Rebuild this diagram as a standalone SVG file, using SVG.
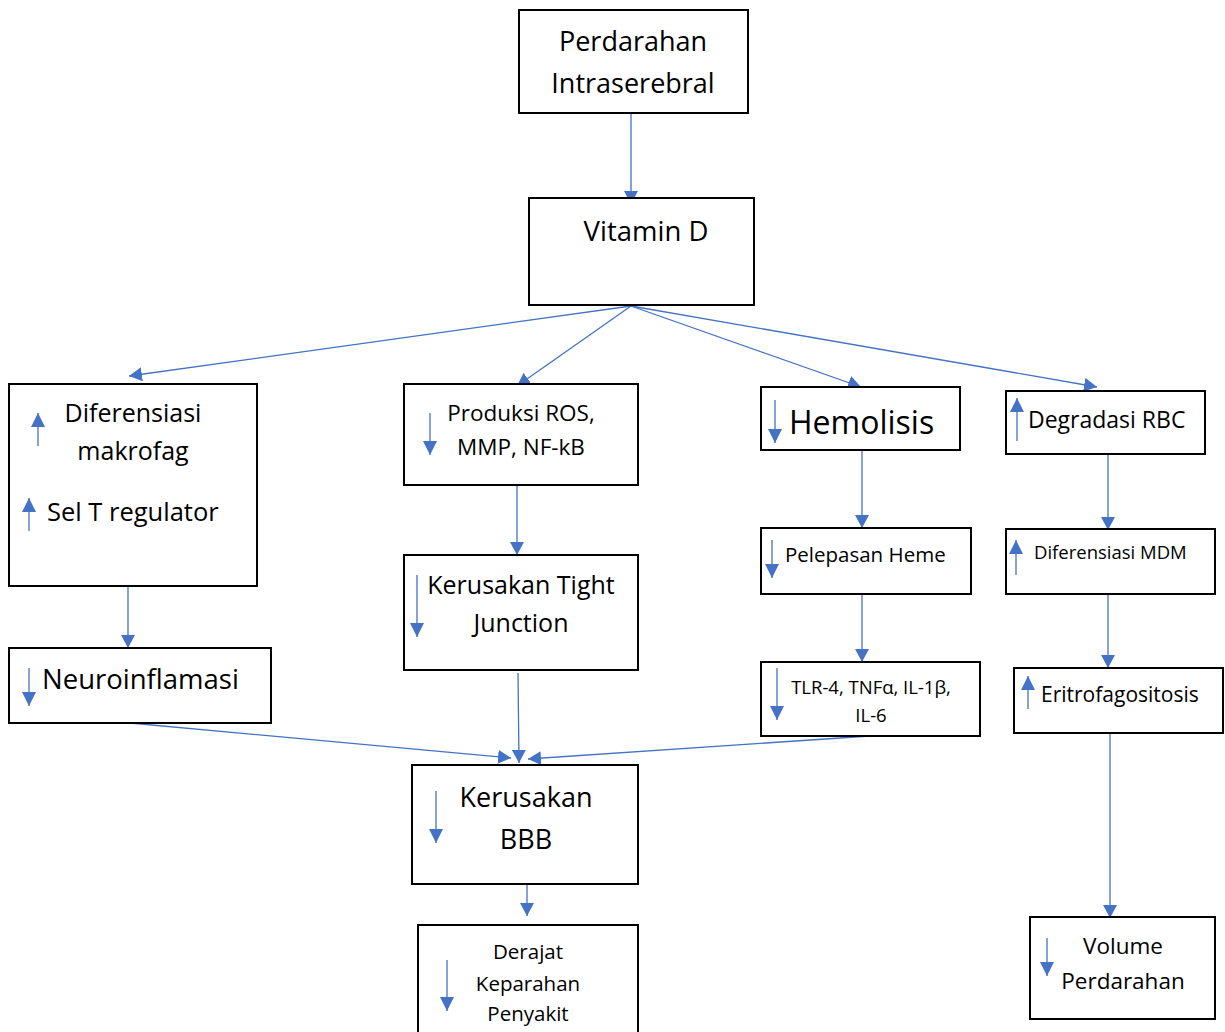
<svg xmlns="http://www.w3.org/2000/svg" width="1225" height="1032" viewBox="0 0 1225 1032">
<style>
.box{fill:#fff;stroke:#000;stroke-width:2}
.t{font-family:"Open Sans","Noto Sans","Liberation Sans",sans-serif;fill:#000}
.c{text-anchor:middle}
.con{stroke:#4472C4;stroke-width:1.3;fill:none}
.ic{stroke:#4472C4;stroke-width:1.3;fill:none}
</style>
<defs>
<marker id="ah" markerUnits="userSpaceOnUse" markerWidth="14" markerHeight="14" refX="13" refY="7" orient="auto">
<path d="M0,0 L13,7 L0,14 z" fill="#4472C4"/>
</marker>
<marker id="ih" markerUnits="userSpaceOnUse" markerWidth="15" markerHeight="15" refX="14" refY="7.5" orient="auto">
<path d="M0,0.5 L14,7.5 L0,14.5 z" fill="#4472C4"/>
</marker>
</defs>
<rect width="1225" height="1032" fill="#fff"/>

<g id="connectors">
<line class="con" x1="631" y1="113" x2="631" y2="204" marker-end="url(#ah)"/>
<line class="con" x1="631" y1="306" x2="129" y2="376" marker-end="url(#ah)"/>
<line class="con" x1="631" y1="306" x2="517" y2="386" marker-end="url(#ah)"/>
<line class="con" x1="631" y1="306" x2="861" y2="387" marker-end="url(#ah)"/>
<line class="con" x1="631" y1="306" x2="1097" y2="387" marker-end="url(#ah)"/>
<line class="con" x1="128" y1="586" x2="128" y2="648" marker-end="url(#ah)"/>
<line class="con" x1="517" y1="485" x2="517" y2="555" marker-end="url(#ah)"/>
<line class="con" x1="518" y1="673" x2="519" y2="763" marker-end="url(#ah)"/>
<line class="con" x1="130" y1="723" x2="511" y2="758" marker-end="url(#ah)"/>
<line class="con" x1="870" y1="736" x2="528" y2="759" marker-end="url(#ah)"/>
<line class="con" x1="862" y1="450" x2="862" y2="528" marker-end="url(#ah)"/>
<line class="con" x1="862" y1="594" x2="862" y2="662" marker-end="url(#ah)"/>
<line class="con" x1="1108" y1="455" x2="1108" y2="530" marker-end="url(#ah)"/>
<line class="con" x1="1108" y1="594" x2="1108" y2="668" marker-end="url(#ah)"/>
<line class="con" x1="1110" y1="733" x2="1110" y2="918" marker-end="url(#ah)"/>
<line class="con" x1="527" y1="884" x2="527" y2="916" marker-end="url(#ah)"/>
</g>

<g id="n-perdarahan">
<rect class="box" x="519" y="10" width="229" height="103"/>
<text class="t c" x="633" y="51" font-size="27">Perdarahan</text>
<text class="t c" x="633" y="93" font-size="27">Intraserebral</text>
</g>

<g id="n-vitd">
<rect class="box" x="529" y="198" width="225" height="107"/>
<text class="t c" x="646" y="241" font-size="27.5">Vitamin D</text>
</g>

<g id="n-difmak">
<rect class="box" x="9" y="384" width="248" height="202"/>
<line class="ic" x1="38" y1="446" x2="38" y2="413" marker-end="url(#ih)"/>
<text class="t c" x="133" y="422" font-size="25">Diferensiasi</text>
<text class="t c" x="133" y="460" font-size="25">makrofag</text>
<line class="ic" x1="29" y1="531" x2="29" y2="498" marker-end="url(#ih)"/>
<text class="t" x="47" y="521" font-size="25.5">Sel T regulator</text>
</g>

<g id="n-neuro">
<rect class="box" x="9" y="648" width="262" height="75"/>
<line class="ic" x1="29" y1="668" x2="29" y2="706" marker-end="url(#ih)"/>
<text class="t" x="42" y="689" font-size="27.5">Neuroinflamasi</text>
</g>

<g id="n-ros">
<rect class="box" x="404" y="384" width="234" height="101"/>
<line class="ic" x1="430" y1="413" x2="430" y2="455" marker-end="url(#ih)"/>
<text class="t c" x="521" y="421" font-size="22.5">Produksi ROS,</text>
<text class="t c" x="521" y="455" font-size="22.5">MMP, NF-kB</text>
</g>

<g id="n-tight">
<rect class="box" x="404" y="555" width="234" height="115"/>
<line class="ic" x1="417" y1="575" x2="417" y2="637" marker-end="url(#ih)"/>
<text class="t c" x="521" y="594" font-size="25">Kerusakan Tight</text>
<text class="t c" x="521" y="632" font-size="25">Junction</text>
</g>

<g id="n-hemolisis">
<rect class="box" x="761" y="387" width="199" height="63"/>
<line class="ic" x1="775" y1="400" x2="775" y2="443" marker-end="url(#ih)"/>
<text class="t" x="789" y="434" font-size="32">Hemolisis</text>
</g>

<g id="n-heme">
<rect class="box" x="761" y="528" width="210" height="66"/>
<line class="ic" x1="772" y1="540" x2="772" y2="578" marker-end="url(#ih)"/>
<text class="t" x="785" y="562" font-size="20.5">Pelepasan Heme</text>
</g>

<g id="n-tlr">
<rect class="box" x="761" y="662" width="219" height="74"/>
<line class="ic" x1="777" y1="668" x2="777" y2="720" marker-end="url(#ih)"/>
<text class="t c" x="871" y="694" font-size="18.5">TLR-4, TNFα, IL-1β,</text>
<text class="t c" x="871" y="722" font-size="18.5">IL-6</text>
</g>

<g id="n-rbc">
<rect class="box" x="1006" y="391" width="199" height="63"/>
<line class="ic" x1="1017" y1="441" x2="1017" y2="398" marker-end="url(#ih)"/>
<text class="t" x="1028" y="428" font-size="23">Degradasi RBC</text>
</g>

<g id="n-mdm">
<rect class="box" x="1006" y="529" width="209" height="65"/>
<line class="ic" x1="1016" y1="575" x2="1016" y2="540" marker-end="url(#ih)"/>
<text class="t" x="1034" y="559" font-size="18.5">Diferensiasi MDM</text>
</g>

<g id="n-eritro">
<rect class="box" x="1014" y="668" width="209" height="65"/>
<line class="ic" x1="1028" y1="709" x2="1028" y2="676" marker-end="url(#ih)"/>
<text class="t" x="1041" y="702" font-size="21">Eritrofagositosis</text>
</g>

<g id="n-volume">
<rect class="box" x="1030" y="917" width="185" height="102"/>
<line class="ic" x1="1047" y1="938" x2="1047" y2="976" marker-end="url(#ih)"/>
<text class="t c" x="1123" y="954" font-size="22.5">Volume</text>
<text class="t c" x="1123" y="989" font-size="22.5">Perdarahan</text>
</g>

<g id="n-bbb">
<rect class="box" x="412" y="765" width="226" height="119"/>
<line class="ic" x1="436" y1="791" x2="436" y2="843" marker-end="url(#ih)"/>
<text class="t c" x="526" y="807" font-size="27">Kerusakan</text>
<text class="t c" x="526" y="849" font-size="27">BBB</text>
</g>

<g id="n-derajat">
<rect class="box" x="418" y="925" width="220" height="120"/>
<line class="ic" x1="447" y1="960" x2="447" y2="1011" marker-end="url(#ih)"/>
<text class="t c" x="528" y="959" font-size="20.5">Derajat</text>
<text class="t c" x="528" y="991" font-size="20.5">Keparahan</text>
<text class="t c" x="528" y="1021" font-size="20.5">Penyakit</text>
</g>
</svg>
